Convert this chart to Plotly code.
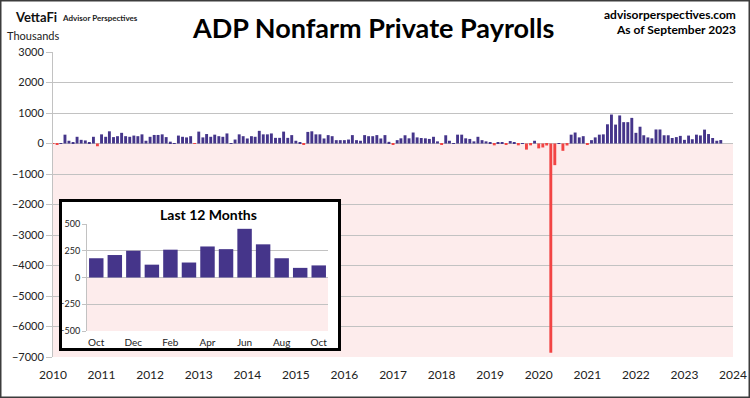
import pandas as pd
import plotly.graph_objects as go

W, H = 750, 398

# ---- Data (thousands, monthly change in ADP private payrolls) ----
payrolls_2010 = [-10, -40, 10, 290, 90, 50, 220, 120, 100, 30, 220, -90]
payrolls_2011 = [300, 220, 400, 210, 240, 350, 240, 220, 260, 240, 300, 90]
payrolls_2012 = [220, 280, 280, 300, 210, 60, 10, 260, 220, 200, 240, -15]
payrolls_2013 = [390, 200, 310, 220, 290, 240, 220, 330, 10, 130, 300, 240]
payrolls_2014 = [165, 240, 220, 415, 300, 300, 330, 185, 185, 390, 185, 275]
payrolls_2015 = [90, 30, -30, 380, 400, 300, 300, 165, 275, 240, 110, 110]
payrolls_2016 = [110, 130, 275, 110, 90, 275, 240, 240, 275, 165, 275, 55]
payrolls_2017 = [-20, 110, 170, 270, 170, 360, 200, 180, 170, 150, 220, 70]
payrolls_2018 = [-20, 270, 90, 10, 290, 290, 170, 150, 70, 220, 110, 70]
payrolls_2019 = [40, -60, 20, 30, -30, 80, 20, -60, 10, -200, -60, 90]
payrolls_2020 = [-160, -130, -65, -6860, -710, 10, -240, -65, 290, 360, 200, 240]
payrolls_2021 = [-50, 110, 200, 290, 300, 630, 950, 620, 920, 700, 700, 840]
payrolls_2022 = [350, 550, 270, 200, 170, 460, 460, 270, 270, 180, 210, 250]
payrolls_2023 = [120, 260, 140, 290, 265, 455, 310, 180, 90, 113]

inset_months = ["Oct", "Nov", "Dec", "Jan", "Feb", "Mar", "Apr",
                "May", "Jun", "Jul", "Aug", "Sep", "Oct"]
inset_values = [180, 210, 250, 120, 260, 140, 290, 265, 455, 310, 180, 90, 113]

year_ticks = [str(y) for y in range(2010, 2025)]
main_yticks = list(range(-7000, 3001, 1000))
inset_yticks = [-500, -250, 0, 250, 500]

values = (payrolls_2010 + payrolls_2011 + payrolls_2012 + payrolls_2013 +
          payrolls_2014 + payrolls_2015 + payrolls_2016 + payrolls_2017 +
          payrolls_2018 + payrolls_2019 + payrolls_2020 + payrolls_2021 +
          payrolls_2022 + payrolls_2023)
dates = pd.date_range("2010-01-01", periods=len(values), freq="MS")

BLUE = "#45358A"
RED = "#F24444"
PINK = "#FDECEC"
GRID = "#C2C2C2"
FONT = "Lato"

colors = [BLUE if v >= 0 else RED for v in values]

fig = go.Figure()
fig.add_trace(go.Bar(x=dates, y=values, marker=dict(color=colors, line=dict(width=0)),
                     xaxis="x", yaxis="y", showlegend=False))
# placeholder trace for the inset box subplot
fig.add_trace(go.Scatter(x=[], y=[], xaxis="x2", yaxis="y2", showlegend=False))
inset_x = list(range(len(inset_values)))
fig.add_trace(go.Bar(x=inset_x, y=inset_values, marker=dict(color=BLUE, line=dict(width=0)),
                     xaxis="x3", yaxis="y3", showlegend=False))

def px(x):
    return x / W

def py(y):
    return 1 - y / H

fig.update_layout(
    template="none",
    width=W, height=H,
    margin=dict(l=0, r=0, t=0, b=0, pad=0, autoexpand=False),
    paper_bgcolor="white", plot_bgcolor="white",
    bargap=0.22,
    font=dict(family=FONT, color="#222222"),
    xaxis=dict(domain=[px(53), px(733)], type="date", automargin=False,
               range=["2010-01-01", "2024-01-01"],
               tickvals=[f"{y}-01-01" for y in year_ticks], ticktext=year_ticks,
               showgrid=False, zeroline=False, showline=False, ticks="",
               ticklabelstandoff=9,
               tickfont=dict(size=12, color="#222222"), anchor="y"),
    yaxis=dict(domain=[py(357), py(52)], range=[-7000, 3000], automargin=False,
               tickvals=main_yticks, showgrid=True, gridcolor=GRID, gridwidth=1,
               zeroline=False, showline=True, linecolor=GRID, linewidth=1,
               ticks="outside", ticklen=6, tickcolor=GRID,
               tickfont=dict(size=11, color="#222222"), anchor="x"),
    xaxis2=dict(domain=[px(59), px(341)], range=[0, 1], visible=False,
                automargin=False, anchor="y2", fixedrange=True),
    yaxis2=dict(domain=[py(351), py(199)], range=[0, 1], visible=False,
                automargin=False, anchor="x2", fixedrange=True),
    xaxis3=dict(domain=[px(87), px(328)], range=[-0.5, 12.5], automargin=False,
                tickvals=inset_x[::2], ticktext=inset_months[::2],
                showgrid=False, zeroline=False, showline=False, ticks="",
                ticklabelstandoff=4,
                tickfont=dict(size=10, color="#222222"), anchor="y3"),
    yaxis3=dict(domain=[py(331), py(224)], range=[-500, 500], automargin=False,
                tickvals=inset_yticks, showgrid=True, gridcolor=GRID, gridwidth=1,
                zeroline=False, showline=True, linecolor=GRID, linewidth=1,
                ticks="outside", ticklen=4, tickcolor=GRID,
                tickfont=dict(size=9, color="#222222"), anchor="x3"),
)

shapes = [
    # pink negative region of main chart
    dict(type="rect", xref="x", yref="y", x0=dates[0], x1="2024-01-01",
         y0=main_yticks[0], y1=0, fillcolor=PINK, line=dict(width=0), layer="below"),
    # white background of inset box
    dict(type="rect", xref="x2", yref="y2", x0=0, x1=1, y0=0, y1=1,
         fillcolor="white", line=dict(width=0), layer="below"),
    # pink negative region of inset
    dict(type="rect", xref="x3", yref="y3", x0=-0.5, x1=12.5, y0=-500, y1=0,
         fillcolor=PINK, line=dict(width=0), layer="below"),
    # inset border
    dict(type="rect", xref="paper", yref="paper", x0=px(60.5), x1=px(339.5),
         y0=py(349.5), y1=py(200.5), line=dict(color="black", width=3), layer="above"),
    # outer border
    dict(type="rect", xref="paper", yref="paper", x0=0, x1=1, y0=0, y1=1,
         line=dict(color="#3C3C3C", width=3), layer="above"),
]
fig.update_layout(shapes=shapes)

ann = [
    dict(text="<b>VettaFi</b>", x=px(13), y=py(17), xanchor="left", yanchor="middle",
         font=dict(size=13, color="#111111")),
    dict(text="<b>Advisor Perspectives</b>", x=px(60), y=py(18), xanchor="left", yanchor="middle",
         font=dict(size=8, color="#222222")),
    dict(text="Thousands", x=px(5), y=py(35), xanchor="left", yanchor="middle",
         font=dict(size=11, color="#222222")),
    dict(text="<b>ADP Nonfarm Private Payrolls</b>", x=px(373), y=py(28), xanchor="center",
         yanchor="middle", font=dict(size=27, color="black")),
    dict(text="<b>advisorperspectives.com</b>", x=px(738), y=py(14), xanchor="right",
         yanchor="middle", font=dict(size=12, color="black")),
    dict(text="<b>As of September 2023</b>", x=px(738), y=py(29), xanchor="right",
         yanchor="middle", font=dict(size=12, color="black")),
    dict(text="<b>Last 12 Months</b>", x=px(208), y=py(214), xanchor="center",
         yanchor="middle", font=dict(size=14, color="black")),
]
for a in ann:
    a.update(xref="paper", yref="paper", showarrow=False)
fig.update_layout(annotations=ann)

fig.write_html("out.html", config={"displayModeBar": False},
               post_script="document.body.style.margin='0px';document.body.style.padding='0px';")
